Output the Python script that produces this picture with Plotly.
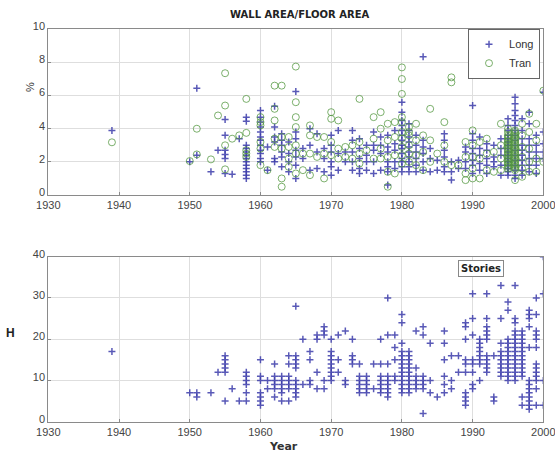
import plotly.graph_objects as go

years = [1939] + list(range(1950, 2001))

long_pct = {
    1939: [3.9], 1950: [2.0], 1951: [6.45, 2.4], 1953: [1.4], 1954: [2.7],
    1955: [4.55, 3.6, 2.7, 2.45, 2.2, 1.3], 1956: [1.25], 1957: [3.4],
    1958: [4.7, 4.45, 3.0, 2.8, 2.6, 2.4, 2.2, 2.0, 1.8, 1.6, 1.4, 1.2, 1.0],
    1960: [5.1, 4.7, 4.4, 4.1, 3.8, 3.5, 3.3, 3.0, 2.7, 2.5, 2.2, 2.0],
    1961: [2.9, 1.5], 1962: [5.35, 4.1, 3.5, 3.2, 2.2, 2.0],
    1963: [3.7, 3.3, 3.0, 2.6, 2.3, 1.7], 1964: [3.2, 2.5, 2.0, 1.4],
    1965: [6.25, 3.8, 3.4, 2.7, 2.3, 1.8, 1.0], 1966: [2.8, 2.2],
    1967: [4.0, 3.0, 1.5], 1968: [3.7, 2.6, 1.6], 1969: [2.8, 2.2, 1.4],
    1970: [3.6, 3.0, 2.6, 2.0, 1.7, 1.2], 1971: [3.9, 2.5, 1.5], 1972: [2.6, 2.0],
    1973: [3.9, 3.3, 2.6, 2.0, 1.5], 1974: [3.4, 2.8, 2.2, 1.6, 1.3],
    1975: [3.0, 2.4, 2.0, 1.5], 1976: [3.8, 3.0, 2.7, 2.0, 1.3],
    1977: [3.5, 3.0, 2.5, 1.5], 1978: [3.6, 2.9, 2.6, 2.0, 1.7, 1.4, 0.6],
    1979: [3.9, 3.1, 2.7, 2.0, 1.6],
    1980: [5.6, 5.0, 4.5, 4.2, 3.9, 3.6, 3.3, 3.0, 2.8, 2.5, 2.2, 2.0, 1.7, 1.4],
    1981: [4.3, 3.9, 3.5, 3.2, 2.9, 2.6, 2.3, 2.0, 1.7, 1.4],
    1982: [3.6, 3.0, 2.6, 2.2, 1.8, 1.4], 1983: [8.35, 3.3, 2.9, 2.5, 2.0, 1.5],
    1984: [2.8, 2.2, 1.4], 1985: [2.1, 1.5], 1986: [3.7, 3.3, 2.7, 2.3, 1.7, 1.4],
    1987: [2.0, 1.4, 0.9], 1988: [2.1, 1.6], 1989: [2.9, 2.6, 2.0, 1.6],
    1990: [5.4, 3.7, 3.3, 2.8, 2.5, 2.1, 1.8, 1.3], 1991: [3.5, 2.8, 2.4, 1.9, 1.5],
    1992: [3.1, 2.7, 2.2, 1.8, 1.3], 1993: [3.0, 2.3, 2.0, 1.7],
    1994: [3.4, 2.8, 2.4, 1.8, 1.2],
    1995: [4.6, 4.2, 3.9, 3.6, 3.4, 3.2, 3.0, 2.8, 2.6, 2.4, 2.2, 2.0, 1.8, 1.6, 1.4, 1.2],
    1996: [5.9, 5.5, 5.1, 4.8, 4.5, 4.2, 3.9, 3.6, 3.3, 3.0, 2.7, 2.4, 2.1, 1.8, 1.5, 1.2, 1.0],
    1997: [4.6, 3.9, 3.4, 3.0, 2.7, 2.4, 2.1, 1.8, 1.5, 1.2],
    1998: [5.0, 4.3, 3.4, 3.0, 2.6, 2.2, 1.8, 1.4], 1999: [3.6, 3.0, 2.6, 2.2, 1.8, 1.3],
    2000: [6.2, 3.8, 3.1, 2.6, 2.2],
}

tran_pct = {
    1939: [3.18], 1950: [2.05], 1951: [4.0, 2.45], 1953: [2.15], 1954: [4.8],
    1955: [7.35, 5.4, 3.0, 1.55], 1956: [3.4], 1957: [3.6],
    1958: [5.8, 3.75, 2.7, 2.5, 2.3], 1960: [4.7, 4.4, 4.2, 3.2, 2.8, 1.8],
    1961: [1.5], 1962: [6.6, 5.2, 4.5, 3.4, 2.9], 1963: [6.6, 3.5, 2.8, 1.0, 0.5],
    1964: [3.5, 2.9, 2.2, 1.7], 1965: [7.75, 5.6, 4.7, 4.1, 3.0, 2.5, 1.3],
    1966: [2.5, 1.5], 1967: [4.2, 3.6, 2.5, 1.2], 1968: [3.5, 2.3],
    1969: [3.5, 2.5, 1.0], 1970: [5.0, 4.6, 3.2, 2.4], 1971: [4.5, 2.8, 2.2],
    1972: [2.9, 2.3], 1973: [3.0, 2.2], 1974: [5.8, 3.2, 2.5, 1.9], 1975: [2.7],
    1976: [4.7, 3.4, 2.2], 1977: [5.0, 4.0, 2.8, 2.2], 1978: [4.3, 3.3, 2.3, 1.4, 0.5],
    1979: [4.4, 3.5, 2.4, 1.3],
    1980: [7.7, 7.0, 6.1, 4.7, 4.4, 3.8, 3.4, 2.9, 2.4, 1.9],
    1981: [4.1, 3.8, 3.6, 3.0, 2.5, 2.0], 1982: [4.3, 3.3, 2.4, 1.8],
    1983: [3.6, 2.6, 1.5], 1984: [5.2, 3.3, 2.0], 1985: [2.5], 1986: [4.4, 3.0, 2.0],
    1987: [7.1, 6.8, 1.8], 1988: [1.8], 1989: [3.2, 2.3, 1.3, 0.9],
    1990: [3.9, 3.0, 2.3, 1.6, 1.0], 1991: [3.2, 2.2, 1.0], 1992: [3.4, 2.5, 1.5],
    1993: [2.6, 1.4], 1994: [4.3, 3.0, 2.2, 1.5],
    1995: [4.0, 3.8, 3.6, 3.5, 3.4, 3.3, 3.2, 3.1, 3.0, 2.9, 2.8, 2.7, 2.6, 2.5, 2.4,
           2.3, 2.2, 2.1, 2.0, 1.9, 1.8, 1.7, 1.6],
    1996: [3.9, 3.8, 3.7, 3.6, 3.5, 3.4, 3.3, 3.2, 3.1, 3.0, 2.9, 2.8, 2.7, 2.6, 2.5,
           2.4, 2.3, 2.2, 2.1, 2.0, 1.9, 1.8, 1.7, 1.6, 1.5, 0.9],
    1997: [4.3, 3.6, 2.9, 2.3, 1.6, 1.1], 1998: [4.9, 3.8, 2.8, 2.0, 1.4],
    1999: [4.3, 3.3, 2.2, 1.4], 2000: [6.3, 2.0],
}

stories = {
    1939: [17], 1950: [7], 1951: [7, 6], 1953: [7], 1954: [12],
    1955: [16, 15, 14, 13, 12, 5], 1956: [8], 1957: [5], 1958: [12, 11, 10, 9, 7, 5],
    1960: [15, 11, 10, 7, 6, 5, 4], 1961: [10, 8], 1962: [14, 11, 10, 9, 8, 6],
    1963: [11, 10, 9, 8, 7, 5], 1964: [16, 14, 11, 10, 9, 8, 5],
    1965: [28, 16, 15, 14, 13, 10, 9, 8, 7, 6], 1966: [20, 9], 1967: [17, 15, 10, 9],
    1968: [21, 20, 12, 8], 1969: [23, 22, 21, 10, 8],
    1970: [20, 17, 16, 15, 14, 13, 12, 11, 10], 1971: [21, 15, 12], 1972: [22, 10, 9],
    1973: [20, 16, 15, 14], 1974: [14, 11, 10, 9, 8, 7], 1975: [11, 10, 9, 8, 7],
    1976: [14, 8], 1977: [20, 14, 11, 10, 9, 8, 7], 1978: [30, 21, 14, 11, 10, 9, 8, 7, 6],
    1979: [21, 18, 15, 11, 10],
    1980: [26, 24, 19, 17, 16, 15, 14, 13, 12, 11, 10, 9, 8, 7],
    1981: [17, 16, 15, 14, 13, 12, 11, 10, 9, 8, 7], 1982: [22, 13, 11, 10, 9, 8],
    1983: [23, 21, 11, 10, 9, 8, 2], 1984: [19, 10, 7], 1985: [6],
    1986: [22, 19, 15, 11, 9, 7], 1987: [16, 10, 8], 1988: [16, 12],
    1989: [24, 23, 20, 15, 14, 12, 7, 6, 5, 4], 1990: [31, 25, 21, 15, 14, 12, 9, 8],
    1991: [20, 19, 18, 17, 16, 15, 14, 10], 1992: [31, 25, 23, 22, 21, 20, 16, 15, 14, 13, 12],
    1993: [16, 6, 5], 1994: [33, 25, 19, 17, 16, 15, 14, 13, 12, 11],
    1995: [29, 27, 20, 19, 18, 17, 16, 15, 14, 13, 12, 11, 10],
    1996: [33, 25, 24, 22, 21, 20, 19, 18, 17, 16, 15, 14, 13, 12, 11, 10],
    1997: [22, 21, 20, 19, 18, 17, 16, 15, 14, 13, 12, 11, 6, 4],
    1998: [27, 26, 25, 23, 18, 10, 9, 8, 7, 6, 5, 4, 3],
    1999: [30, 26, 22, 21, 20, 18, 14, 13, 12, 11, 10, 8, 4], 2000: [40, 31, 10, 4],
}

x_ticks = [1930, 1940, 1950, 1960, 1970, 1980, 1990, 2000]


def flatten(d):
    xs, ys = [], []
    for yr in years:
        for v in d.get(yr, []):
            xs.append(yr)
            ys.append(v)
    return xs, ys


lx, ly = flatten(long_pct)
tx, ty = flatten(tran_pct)
sx, sy = flatten(stories)

blue = "rgba(60,60,170,0.85)"
green = "rgba(80,150,60,0.75)"

fig = go.Figure()
fig.add_trace(go.Scatter(x=lx, y=ly, mode="markers", name="Long",
                         marker=dict(symbol="cross-thin", size=5,
                                     line=dict(color=blue, width=1.5), color=blue),
                         xaxis="x", yaxis="y"))
fig.add_trace(go.Scatter(x=tx, y=ty, mode="markers", name="Tran",
                         marker=dict(symbol="circle-open", size=7,
                                     line=dict(color=green, width=1), color=green),
                         xaxis="x", yaxis="y"))
fig.add_trace(go.Scatter(x=sx, y=sy, mode="markers", name="Stories", showlegend=False,
                         marker=dict(symbol="cross-thin", size=5,
                                     line=dict(color=blue, width=1.5), color=blue),
                         xaxis="x2", yaxis="y2"))

axis_common = dict(showline=True, linecolor="#8a8a8a", linewidth=1, mirror=True,
                   showgrid=True, gridcolor="#dedede", gridwidth=1, automargin=False,
                   ticks="inside", ticklen=3, tickcolor="#8a8a8a", zeroline=False,
                   ticklabeloverflow="allow",
                   tickfont=dict(family="Liberation Sans, Arial", size=11, color="#444"))

fig.update_layout(
    template="none",
    width=555, height=455,
    margin=dict(l=0, r=0, t=0, b=0, pad=0),
    paper_bgcolor="white", plot_bgcolor="white",
    xaxis=dict(domain=[0.087, 0.979], range=[1930, 2000], tickvals=x_ticks,
               anchor="y", **axis_common),
    yaxis=dict(domain=[0.5714, 0.9356], range=[0, 10], tickvals=[0, 2, 4, 6, 8, 10],
               anchor="x", ticklabelshift=-3, **axis_common),
    xaxis2=dict(domain=[0.087, 0.979], range=[1930, 2000], tickvals=x_ticks,
                anchor="y2", **axis_common),
    yaxis2=dict(domain=[0.0732, 0.4358], range=[0, 40], tickvals=[0, 10, 20, 30, 40],
                anchor="x2", ticklabelshift=-3, **axis_common),
    legend=dict(x=0.973, y=0.937, xanchor="right", yanchor="top",
                bordercolor="#666", borderwidth=1, bgcolor="white",
                font=dict(family="Liberation Sans, Arial", size=11, color="#333"),
                tracegroupgap=0, itemwidth=30),
    showlegend=True,
    annotations=[
        dict(text="<b>WALL AREA/FLOOR AREA</b>", x=0.54, y=0.969, xref="paper", yref="paper",
             yanchor="middle", showarrow=False,
             font=dict(family="DejaVu Sans", size=10, color="#222")),
        dict(text="%", x=0.04, y=0.809, xref="paper", yref="paper", textangle=-90,
             yanchor="middle", showarrow=False,
             font=dict(family="Liberation Sans, Arial", size=11, color="#333")),
        dict(text="<b>H</b>", x=0.008, y=0.268, xref="paper", yref="paper", xanchor="left",
             yanchor="middle", showarrow=False,
             font=dict(family="Liberation Sans, Arial", size=12, color="#222")),
        dict(text="<b>Year</b>", x=0.51, y=0.0176, xref="paper", yref="paper",
             yanchor="middle", showarrow=False,
             font=dict(family="DejaVu Sans", size=11, color="#333")),
        dict(text="<b>Stories</b>", x=0.908, y=0.409, xref="paper", yref="paper",
             yanchor="middle", showarrow=False, bordercolor="#888", borderwidth=1,
             borderpad=2, bgcolor="white",
             font=dict(family="DejaVu Sans", size=10, color="#222")),
    ],
)

fig.write_html("out.html", config={"displayModeBar": False},
               post_script="document.documentElement.style.overflow='hidden';"
                           "document.body.style.margin='0';document.body.style.overflow='hidden';")
